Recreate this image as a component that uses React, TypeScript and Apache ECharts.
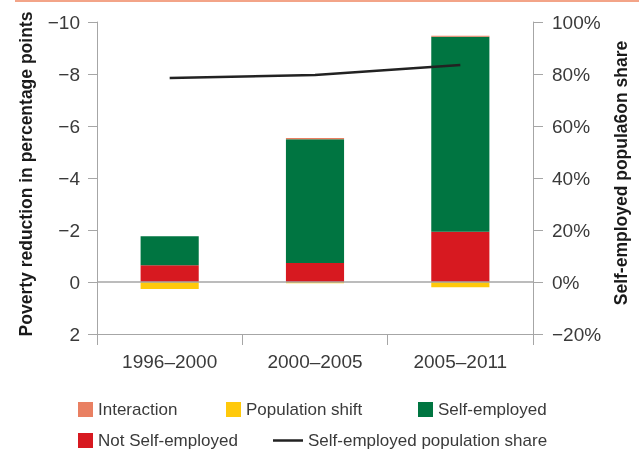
import React, { useEffect, useRef } from "react";
import * as echarts from "echarts";

const categories = ["1996–2000", "2000–2005", "2005–2011"];
const notSelfEmployed = [-0.64, -0.73, -1.93];
const selfEmployed = [-1.12, -4.76, -7.5];
const interaction = [0, -0.05, -0.04];
const populationShift = [0.27, 0.05, 0.2];
const selfEmployedShare = [78.5, 79.6, 83.5];

const FONT = "'Liberation Sans', Arial, sans-serif";
const AXIS = "#a6a6a6";
const TEXT = "#3a3a3a";

const fmtLeft = (v: number) => (v < 0 ? "\u2212" + Math.abs(v) : String(v));
const fmtRight = (v: number) => (v < 0 ? "\u2212" + Math.abs(v) : String(v)) + "%";

export default function App() {
  const ref = useRef<HTMLDivElement>(null);
  useEffect(() => {
    if (!ref.current) return;
    const chart = echarts.init(ref.current, null, { renderer: "svg" });
    const legendText = { fontFamily: FONT, fontSize: 17, color: TEXT };
    const mkLegend = (name: string, left: number, top: number, w = 15, h = 15, icon = "rect") => ({
      data: [{ name, icon }],
      left,
      top,
      itemWidth: w,
      itemHeight: h,
      padding: 0,
      textStyle: legendText,
      selectedMode: false,
    });
    chart.setOption({
      animation: false,
      textStyle: { fontFamily: FONT },
      grid: { left: 97, right: 106, top: 22, bottom: 117, containLabel: false },
      legend: [
        mkLegend("Interaction", 78, 401),
        mkLegend("Population shift", 226, 401),
        mkLegend("Self-employed", 418, 401),
        mkLegend("Not Self-employed", 78, 432),
        mkLegend("Self-employed population share", 273, 432, 30, 2.5, "rect"),
      ],
      xAxis: {
        type: "category",
        data: categories,
        axisLine: { onZero: false, lineStyle: { color: AXIS, width: 1 } },
        axisTick: { show: true, length: 11, alignWithLabel: false, lineStyle: { color: AXIS } },
        axisLabel: { fontSize: 19, color: TEXT, margin: 18, fontFamily: FONT },
        splitLine: { show: false },
      },
      yAxis: [
        {
          type: "value",
          inverse: true,
          min: -10,
          max: 2,
          interval: 2,
          position: "left",
          axisLine: { show: true, lineStyle: { color: AXIS } },
          axisTick: { show: true, length: 9, lineStyle: { color: AXIS } },
          axisLabel: { fontSize: 19, color: TEXT, margin: 17, formatter: fmtLeft, fontFamily: FONT },
          splitLine: { show: false },
        },
        {
          type: "value",
          min: -20,
          max: 100,
          interval: 20,
          position: "right",
          axisLine: { show: true, lineStyle: { color: AXIS } },
          axisTick: { show: true, length: 10, lineStyle: { color: AXIS } },
          axisLabel: { fontSize: 19, color: TEXT, margin: 19, formatter: fmtRight, fontFamily: FONT },
          splitLine: { show: false },
        },
      ],
      series: [
        {
          name: "Not Self-employed",
          type: "bar",
          stack: "total",
          barWidth: "40%",
          itemStyle: { color: "#d71920" },
          data: notSelfEmployed,
          markLine: {
            silent: true,
            symbol: "none",
            label: { show: false },
            lineStyle: { color: AXIS, type: "solid", width: 1.5 },
            data: [{ yAxis: 0 }],
            z: 10,
          },
        },
        {
          name: "Self-employed",
          type: "bar",
          stack: "total",
          barWidth: "40%",
          itemStyle: { color: "#007541" },
          data: selfEmployed,
        },
        {
          name: "Interaction",
          type: "bar",
          stack: "total",
          barWidth: "40%",
          itemStyle: { color: "#e98062" },
          data: interaction,
        },
        {
          name: "Population shift",
          type: "bar",
          stack: "total",
          barWidth: "40%",
          itemStyle: { color: "#ffc90b" },
          data: populationShift,
        },
        {
          name: "Self-employed population share",
          type: "line",
          yAxisIndex: 1,
          symbol: "none",
          lineStyle: { color: "#222222", width: 2.5 },
          itemStyle: { color: "#222222" },
          data: selfEmployedShare,
          z: 5,
        },
      ],
      graphic: [
        {
          type: "rect",
          shape: { x: 15, y: 0, width: 624, height: 2 },
          style: { fill: "#f3a488" },
        },
        {
          type: "text",
          x: 26,
          y: 174,
          rotation: Math.PI / 2,
          style: {
            text: "Poverty reduction in percentage points",
            fontFamily: FONT,
            fontSize: 17.5,
            fontWeight: "bold",
            fill: "#1a1a1a",
            align: "center",
            verticalAlign: "middle",
          },
        },
        {
          type: "text",
          x: 621,
          y: 173,
          rotation: Math.PI / 2,
          style: {
            text: "Self-employed popula6on share",
            fontFamily: FONT,
            fontSize: 17.5,
            fontWeight: "bold",
            fill: "#1a1a1a",
            align: "center",
            verticalAlign: "middle",
          },
        },
      ],
    });
    return () => chart.dispose();
  }, []);
  return <div ref={ref} style={{ position: "fixed", left: 0, top: 0, width: 639, height: 451 }} />;
}
